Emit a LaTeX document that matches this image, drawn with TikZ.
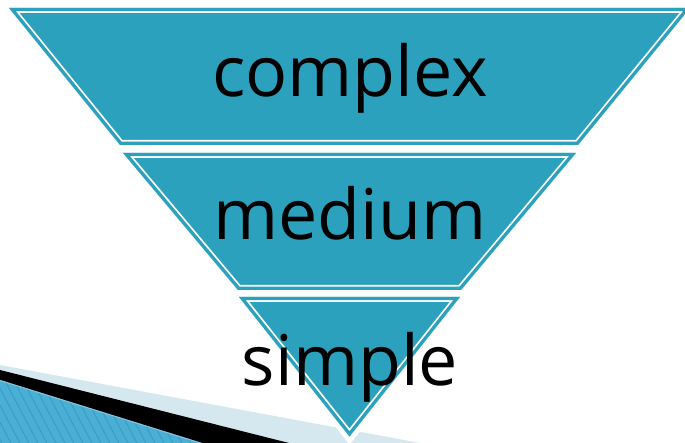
\documentclass[tikz,border=0pt]{standalone}
\usepackage{fontspec}
\setmainfont{Open Sans}
\definecolor{bandteal}{HTML}{2CA1BE}
\definecolor{palesky}{HTML}{D5E8F0}
\definecolor{stripeblue}{HTML}{4AAFD5}
\definecolor{stripedark}{HTML}{3A9BC3}
\tikzset{
  halo/.style={draw=white, line width=10pt, line join=miter},
  label/.style={anchor=base, inner sep=0pt, text=black, font=\fontsize{70}{82}\selectfont},
}
% one band of the funnel: white halo, teal fill, thin teal rim and white inner line
\newcommand{\funnelband}[1]{%
  \draw[halo] #1 -- cycle;
  \fill[bandteal] #1 -- cycle;
  \begin{scope}
    \clip #1 -- cycle;
    \draw[white, line width=10pt, line join=miter] #1 -- cycle;
    \draw[bandteal, line width=6.5pt, line join=miter] #1 -- cycle;
  \end{scope}
}
\begin{document}
\begin{tikzpicture}[x=1pt, y=-1pt]
  \useasboundingbox (0,0) rectangle (685,443);
  \clip (0,0) rectangle (685,443);

  % corner decoration: pale band, black wedge, striped blue strip
  \fill[palesky] (0,365) -- (420,443) -- (0,443) -- cycle;
  \fill[black] (0,370) -- (289,443) -- (0,443) -- cycle;
  \fill[stripeblue] (0,380) -- (202,443) -- (0,443) -- cycle;
  \begin{scope}
    \clip (0,380) -- (202,443) -- (0,443) -- cycle;
    \foreach \i in {-60,-51,...,220}
      \draw[stripedark, line width=0.9pt] (\i,360) -- ++(46,87);
    \draw[stripedark!60!white, line width=1pt] (0,380.5) -- (202,443.5);
  \end{scope}

  % three bands of the inverted pyramid
  \funnelband{(9,8) -- (690,8) -- (578,145) -- (120,145)}
  \funnelband{(123,153) -- (576,153) -- (461,290) -- (238,290)}
  \funnelband{(239,297) -- (460,297) -- (349.5,436.5)}

  \node[label] (complex) at (350,97) {complex};
  \node[label] (medium)  at (350,240) {medium};
  \node[label] (simple)  at (350,385) {simple};
\end{tikzpicture}
\end{document}
